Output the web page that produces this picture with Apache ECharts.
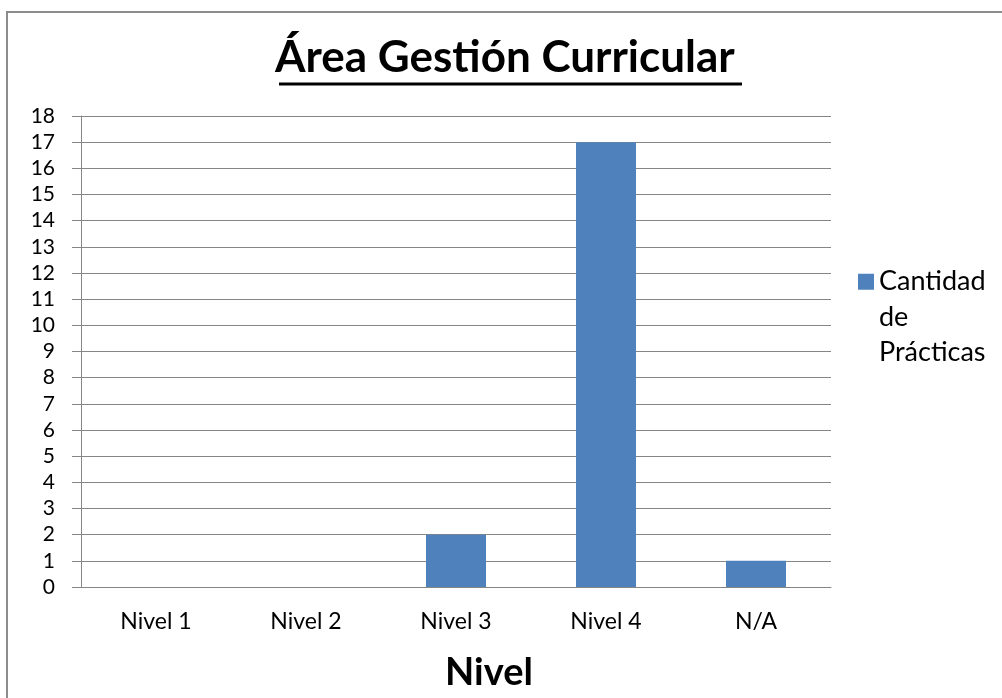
<!DOCTYPE html>
<html><head><meta charset="utf-8">
<script src="https://cdn.jsdelivr.net/npm/echarts@6/dist/echarts.min.js"></script>
<style>html,body{margin:0;padding:0;background:#fff}#c{width:1002px;height:698px}</style>
</head><body><div id="c"></div>
<script>
const categories = ['Nivel 1', 'Nivel 2', 'Nivel 3', 'Nivel 4', 'N/A'];
const values = [0, 0, 2, 17, 1];
const seriesName = 'Cantidad de Prácticas';
const titleText = 'Área Gestión Curricular';
const xName = 'Nivel';
const FONT = 'Lato, "Open Sans", sans-serif';
const chart = echarts.init(document.getElementById('c'));
chart.setOption({
  backgroundColor: '#fff',
  animation: false,
  title: {
    text: titleText, left: 275, top: 36, padding: 0,
    textStyle: {fontFamily: FONT, fontSize: 44, fontWeight: 'bold', color: '#000'}
  },
  graphic: [
    {type: 'rect', shape: {x: 7, y: 12, width: 1100, height: 800}, style: {fill: 'none', stroke: '#8c8c8c', lineWidth: 2}, silent: true},
    {type: 'line', shape: {x1: 279, y1: 84, x2: 742, y2: 84}, style: {stroke: '#000', lineWidth: 3}, silent: true}
  ],
  legend: {
    left: 853, top: 188, orient: 'vertical',
    itemWidth: 16, itemHeight: 16,
    icon: 'rect',
    formatter: () => '\n\nCantidad\nde\nPrácticas',
    textStyle: {fontFamily: FONT, fontSize: 27, color: '#000', lineHeight: 35.5}
  },
  grid: {left: 81, right: 171, top: 116, bottom: 111, outerBoundsMode: 'none'},
  xAxis: {
    type: 'category', data: categories,
    name: xName, nameLocation: 'middle', nameGap: 67,
    nameTextStyle: {fontFamily: FONT, fontSize: 38, fontWeight: 'bold', color: '#000', padding: [0, 0, 0, 66]},
    axisLine: {lineStyle: {color: '#868686', width: 1}},
    axisTick: {length: 9, lineStyle: {color: '#868686'}},
    axisLabel: {fontFamily: FONT, fontSize: 23, color: '#000', margin: 23}
  },
  yAxis: {
    type: 'value', min: 0, max: 18, interval: 1,
    axisLine: {show: true, lineStyle: {color: '#868686', width: 1}},
    axisTick: {show: true, length: 9, lineStyle: {color: '#868686'}},
    axisLabel: {fontFamily: FONT, fontSize: 21, color: '#000', margin: 26},
    splitLine: {lineStyle: {color: '#868686', width: 1}}
  },
  series: [{
    name: seriesName, type: 'bar', data: values, barWidth: '40%',
    itemStyle: {color: '#4F81BD'}
  }]
});
</script></body></html>
